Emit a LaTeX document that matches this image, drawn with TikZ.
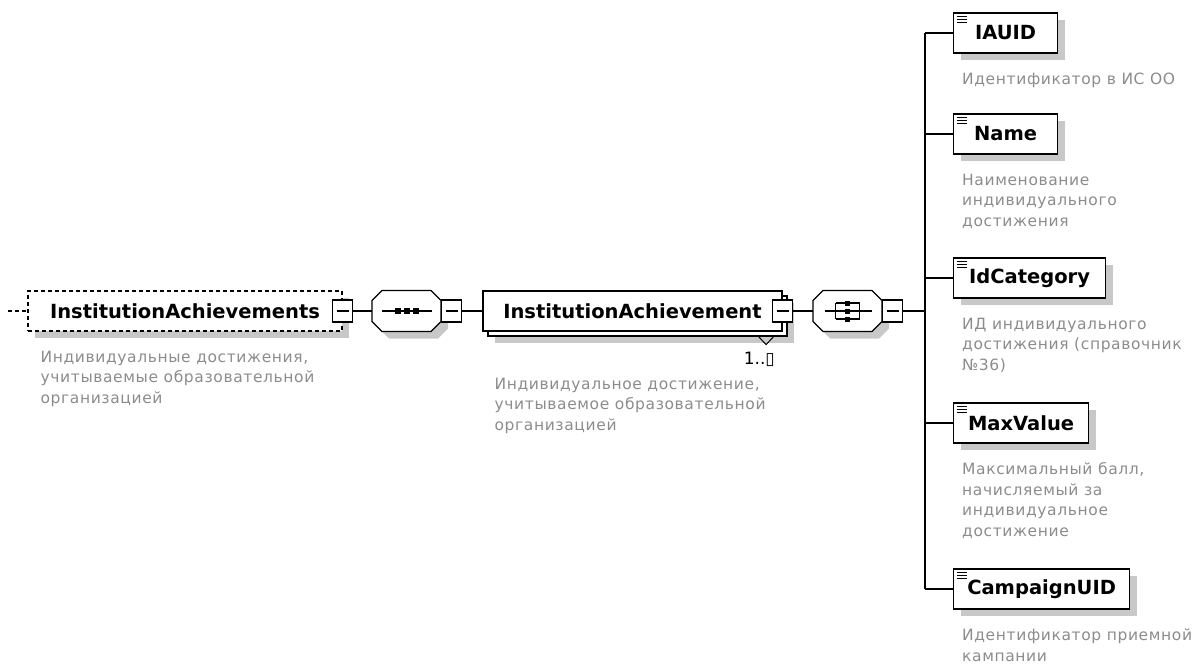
\documentclass[tikz,border=0pt]{standalone}
\usepackage{fontspec}
\setmainfont{DejaVu Sans}
\newfontfamily\docfont[LetterSpace=4]{DejaVu Sans}
\usepackage{tikz}
\usetikzlibrary{shadows}
\definecolor{shadowgray}{RGB}{200,200,200}
\definecolor{docgray}{RGB}{140,140,140}

\tikzset{
	conn/.style={line width=1.2pt},
	elembox/.style={draw, fill=white, line width=1.2pt, minimum height=40, inner sep=0pt, font=\fontsize{19.5}{22}\selectfont\bfseries},
	optbox/.style={elembox, dash pattern=on 4pt off 3pt},
	shadowed/.style={drop shadow={shadow xshift=7pt, shadow yshift=-7pt, fill=shadowgray, opacity=1}},
	compbox/.style={minimum width=69, minimum height=41, inner sep=0pt},
	collapse/.style={draw, fill=white, line width=1.2pt, minimum width=20, minimum height=22, inner sep=0pt,
		path picture={\draw[line width=1.2pt] ([xshift=4pt]path picture bounding box.west) -- ([xshift=-4pt]path picture bounding box.east);}},
	docu/.style={align=left, inner sep=0pt, text=docgray, font=\docfont\fontsize{15.5}{20.5}\selectfont}
}

\begin{document}
\begin{tikzpicture}[x=1pt,y=-1pt]
	\useasboundingbox (0,0) rectangle (1199,664);
	% root element (optional)
	\coordinate (stub) at (8,311);
	\node[optbox, shadowed, minimum width=314] (root) at (185,311) {InstitutionAchievements};
	\node[collapse] (rootcol) at (root.east) {};
	\node[docu, anchor=north west] (rootdoc) at ([xshift=13pt,yshift=-19pt]root.south west) {Индивидуальные достижения,\\учитываемые образовательной\\организацией};
	\draw[conn, dash pattern=on 4pt off 3pt] (stub) -- (root.west);

	% compositors: sequence and choice
	\node[compbox] (seq) at (406.5,311) {};
	\node[compbox] (choice) at (847.5,311) {};
	\foreach \c in {seq,choice}
	{
		\begin{scope}[shift={(\c.center)}]
			\fill[shadowgray] (-17.5,-13.5) -- (31.5,-13.5) -- (41.5,-3.5) -- (41.5,17.5) -- (31.5,27.5) -- (-17.5,27.5) -- (-27.5,17.5) -- (-27.5,-3.5) -- cycle;
			\draw[line width=1.2pt, fill=white] (-24.5,-20.5) -- (24.5,-20.5) -- (34.5,-10.5) -- (34.5,10.5) -- (24.5,20.5) -- (-24.5,20.5) -- (-34.5,10.5) -- (-34.5,-10.5) -- cycle;
		\end{scope}
	}
	\node[collapse, anchor=west] (seqcol) at (seq.east) {};
	\node[collapse, anchor=west] (choicecol) at (choice.east) {};
	\draw[conn] ([xshift=-25pt]seq.center) -- ([xshift=25pt]seq.center);
	\foreach \dx in {-9,0,9}
		\fill ([xshift=\dx pt]seq.center) +(-3,-3) rectangle +(3,3);
	\begin{scope}[shift={(choice.center)}, line width=1.2pt]
		\draw (-23,0) -- (-12,0) (12,0) -- (24,0);
		\draw (-12,-8) -- (-12,8) (12,-8) -- (12,8);
		\foreach \dy in {-8,0,8}
			\draw (-12,\dy) -- (12,\dy);
		\foreach \dy in {-8,0,8}
			\fill (-2.5,\dy-2.5) rectangle (2.5,\dy+2.5);
	\end{scope}
	\draw[conn] (rootcol.east) -- (seq.west);

	% repeated element
	\node[elembox, shadowed, minimum width=299] (iaback) at (637.5,316) {};
	\node[elembox, minimum width=299] (ia) at (632.5,311) {InstitutionAchievement};
	\node[collapse] (iacol) at (ia.east) {};
	\draw[line width=1pt] ([xshift=-29pt]iaback.south east) -- ++(7.5,8) -- ++(7.5,-8);
	\node[anchor=east, inner sep=0pt, font=\fontsize{17}{19}\selectfont] (mult) at (775,359) {1..▯};
	\node[docu, anchor=north west] (iadoc) at ([xshift=12pt,yshift=-46pt]ia.south west) {Индивидуальное достижение,\\учитываемое образовательной\\организацией};
	\draw[conn] (seqcol.east) -- (ia.west);
	\draw[conn] (iacol.east) -- (choice.west);

	% children
	\coordinate (bus) at (925,311);
	\draw[conn] (choicecol.east) -- (bus);
	\foreach \nm/\txt/\y/\w/\dsc in {
		iauid/IAUID/33/104/{Идентификатор в ИС ОО},
		name/Name/134/104/{Наименование\\индивидуального\\достижения},
		idcat/IdCategory/278/152/{ИД индивидуального\\достижения (справочник\\№36)},
		maxval/MaxValue/423/135/{Максимальный балл,\\начисляемый за\\индивидуальное\\достижение},
		campaign/CampaignUID/589/176/{Идентификатор приемной\\кампании}}
	{
		\node[elembox, shadowed, minimum width=\w, anchor=west] (\nm) at (953,\y) {\txt};
		\foreach \k in {4,7,10}
			\draw[line width=1.1pt] ([xshift=4pt,yshift=-\k pt]\nm.north west) -- ++(10,0);
		\node[docu, anchor=north west] (\nm doc) at ([xshift=9pt,yshift=-19pt]\nm.south west) {\dsc};
		\draw[conn] (bus |- \nm.west) -- (\nm.west);
	}
	\draw[conn] (bus |- iauid.west) -- (bus |- campaign.west);
\end{tikzpicture}
\end{document}
